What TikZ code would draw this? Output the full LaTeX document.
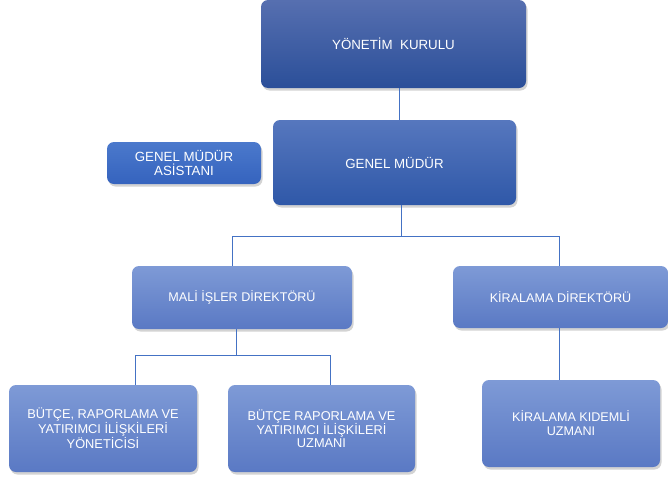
\documentclass[tikz,border=0pt]{standalone}
\usepackage{fontspec}
\setmainfont{Liberation Sans}
\usepackage{xcolor}
\usepackage{tikz}
\usetikzlibrary{shadows}

\definecolor{topdark}{HTML}{566FB0}
\definecolor{botdark}{HTML}{2B4F99}
\definecolor{topmid}{HTML}{5677BE}
\definecolor{botmid}{HTML}{2F58A8}
\definecolor{topasst}{HTML}{4B79CC}
\definecolor{botasst}{HTML}{3563BE}
\definecolor{toplight}{HTML}{7E9AD6}
\definecolor{botlight}{HTML}{5A79C4}
\definecolor{linkblue}{HTML}{4472C4}

\begin{document}
\begin{tikzpicture}[x=1pt,y=-1pt,
    box/.style={rounded corners=7pt, text=white, align=center, inner sep=2pt,
        drop shadow={shadow xshift=1.5pt,shadow yshift=-2.5pt,opacity=0.35}},
    darkbox/.style={box, top color=topdark, bottom color=botdark},
    midbox/.style={box, top color=topmid, bottom color=botmid},
    asstbox/.style={box, top color=topasst, bottom color=botasst},
    lightbox/.style={box, top color=toplight, bottom color=botlight},
    link/.style={draw=linkblue, line width=0.9pt}]
\useasboundingbox (0,0) rectangle (668,479);

    \node[darkbox, minimum width=265pt, minimum height=88pt, font=\fontsize{13.3}{15}\selectfont] (yk) at (393.5,44) {YÖNETİM\ \ KURULU};
    \node[midbox, minimum width=243pt, minimum height=85pt, font=\fontsize{13.3}{15}\selectfont] (gm) at (394.5,162.5) {GENEL MÜDÜR};
    \node[asstbox, minimum width=154pt, minimum height=42pt, font=\fontsize{13.3}{14}\selectfont] (asst) at (184,163) {GENEL MÜDÜR\\ASİSTANI};

    \node[lightbox, minimum width=220pt, minimum height=63pt, font=\fontsize{12.6}{14}\selectfont] (mali) at (242,297.5) {MALİ İŞLER DİREKTÖRÜ};
    \node[lightbox, minimum width=215pt, minimum height=62pt, font=\fontsize{12.6}{14}\selectfont] (kira) at (560.5,297) {KİRALAMA DİREKTÖRÜ};

    \node[lightbox, minimum width=188pt, minimum height=87pt, font=\fontsize{12.8}{12.5}\selectfont] (b1) at (103,428.5) {BÜTÇE, RAPORLAMA VE\\YATIRIMCI İLİŞKİLERİ\\YÖNETİCİSİ};
    \node[lightbox, minimum width=187pt, minimum height=87pt, font=\fontsize{12.8}{12.5}\selectfont] (b2) at (321.5,428.5) {BÜTÇE RAPORLAMA VE\\YATIRIMCI İLİŞKİLERİ\\UZMANI};
    \node[lightbox, minimum width=178pt, minimum height=87pt, font=\fontsize{12.6}{14}\selectfont] (kkuz) at (571,423.5) {KİRALAMA KIDEMLİ\\UZMANI};

    % draw the lines
    \draw[link] ([xshift=5.5pt]yk.south) -- ([xshift=5.5pt]yk.south |- gm.north);
    \draw[link] ([xshift=6.5pt]gm.south) -- ++(0,31) coordinate (bus1);
    \draw[link] ([xshift=-10pt]mali.north) |- (bus1) -| ([xshift=-1.5pt]kira.north);
    \draw[link] ([xshift=-6pt]mali.south) -- ++(0,26) coordinate (bus2);
    \draw[link] ([xshift=32pt]b1.north) |- (bus2) -| ([xshift=8.5pt]b2.north);
    \draw[link] ([xshift=-1.5pt]kira.south) -- ([xshift=-12pt]kkuz.north);

\end{tikzpicture}
\end{document}
